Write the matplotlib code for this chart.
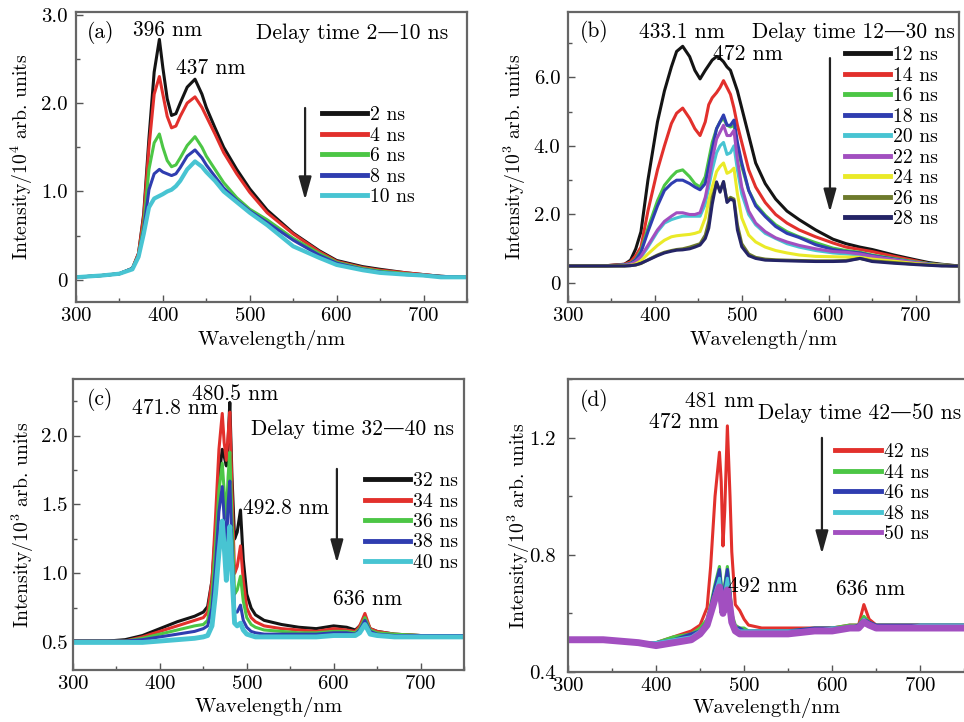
import matplotlib.pyplot as plt
from matplotlib.ticker import MultipleLocator, FuncFormatter

plt.rcParams['font.family'] = ['cmr10', 'DejaVu Serif']
plt.rcParams['mathtext.fontset'] = 'cm'
plt.rcParams['axes.formatter.use_mathtext'] = True
plt.rcParams['axes.unicode_minus'] = False
plt.rcParams['font.size'] = 15.5

# ---------------- (a) delay 2-10 ns, intensity / 1e4 ----------------
wl_a = [300, 330, 350, 365, 372, 378, 384, 390, 396, 400, 405, 410, 415, 420, 428, 437,
        445, 450, 460, 470, 485, 500, 520, 550, 580, 600, 630, 650, 680, 700, 720, 750]
a_2ns = [0.03, 0.05, 0.07, 0.13, 0.3, 0.75, 1.6, 2.35, 2.72, 2.4, 2.05, 1.86, 1.88, 2.0, 2.18, 2.27,
         2.1, 1.95, 1.72, 1.5, 1.25, 1.03, 0.79, 0.53, 0.33, 0.22, 0.15, 0.12, 0.08, 0.06, 0.04, 0.03]
a_4ns = [0.03, 0.05, 0.07, 0.13, 0.3, 0.72, 1.5, 2.1, 2.30, 2.1, 1.85, 1.72, 1.74, 1.85, 2.0, 2.07,
         1.95, 1.85, 1.65, 1.44, 1.2, 0.99, 0.76, 0.52, 0.32, 0.21, 0.14, 0.11, 0.08, 0.06, 0.04, 0.03]
a_6ns = [0.03, 0.05, 0.07, 0.13, 0.28, 0.62, 1.25, 1.55, 1.65, 1.5, 1.35, 1.28, 1.3, 1.38, 1.52, 1.62,
         1.5, 1.4, 1.25, 1.1, 0.93, 0.8, 0.68, 0.47, 0.3, 0.2, 0.13, 0.1, 0.07, 0.05, 0.04, 0.03]
a_8ns = [0.03, 0.05, 0.07, 0.13, 0.27, 0.57, 1.02, 1.2, 1.25, 1.22, 1.2, 1.18, 1.2, 1.27, 1.4, 1.47,
         1.38, 1.3, 1.17, 1.04, 0.9, 0.78, 0.65, 0.45, 0.28, 0.19, 0.12, 0.09, 0.06, 0.05, 0.04, 0.03]
a_10ns = [0.03, 0.05, 0.07, 0.12, 0.26, 0.52, 0.82, 0.92, 0.95, 0.97, 1.0, 1.02, 1.06, 1.12, 1.25, 1.34,
          1.28, 1.22, 1.12, 1.0, 0.88, 0.76, 0.62, 0.38, 0.25, 0.17, 0.11, 0.08, 0.06, 0.05, 0.03, 0.03]

# ---------------- (b) delay 12-30 ns, intensity / 1e3 ----------------
wl_b = [300, 340, 365, 372, 378, 384, 392, 403, 411, 419, 425, 432, 440, 446, 452, 458, 462, 466,
        471, 475, 479, 483, 487, 491, 495, 500, 508, 516, 527, 539, 552, 566, 585, 605, 620, 636,
        650, 675, 700, 715, 730, 750]
b_12ns = [0.5, 0.5, 0.55, 0.67, 1.0, 1.5, 3.0, 4.7, 5.6, 6.3, 6.75, 6.9, 6.6, 6.2, 5.95, 6.2, 6.35, 6.5,
          6.6, 6.55, 6.45, 6.3, 6.2, 5.9, 5.6, 5.1, 4.3, 3.5, 2.9, 2.45, 2.1, 1.85, 1.55, 1.28, 1.15, 1.05,
          0.98, 0.82, 0.68, 0.6, 0.55, 0.5]
b_14ns = [0.5, 0.5, 0.55, 0.62, 0.8, 1.05, 2.1, 3.3, 4.0, 4.65, 4.95, 5.1, 4.8, 4.5, 4.3, 4.7, 5.2, 5.4,
          5.55, 5.7, 5.9, 5.7, 5.5, 5.1, 4.6, 4.1, 3.3, 2.8, 2.35, 2.0, 1.75, 1.55, 1.35, 1.17, 1.05, 0.98,
          0.92, 0.78, 0.65, 0.57, 0.53, 0.5]
b_16ns = [0.5, 0.5, 0.53, 0.58, 0.7, 0.95, 1.6, 2.4, 2.85, 3.1, 3.25, 3.3, 3.1, 2.9, 2.8, 3.1, 3.6, 4.1,
          4.5, 4.7, 4.8, 4.6, 4.55, 4.6, 4.0, 3.4, 2.7, 2.3, 1.98, 1.7, 1.5, 1.35, 1.18, 1.02, 0.95, 0.9,
          0.82, 0.72, 0.62, 0.57, 0.53, 0.5]
b_18ns = [0.5, 0.5, 0.53, 0.57, 0.68, 0.9, 1.5, 2.25, 2.7, 2.9, 3.0, 3.0, 2.9, 2.8, 2.72, 2.9, 3.4, 3.9,
          4.5, 4.7, 4.9, 4.6, 4.6, 4.75, 4.1, 3.5, 2.7, 2.25, 1.94, 1.65, 1.45, 1.33, 1.12, 0.98, 0.92, 0.88,
          0.8, 0.7, 0.6, 0.56, 0.52, 0.5]
b_20ns = [0.5, 0.5, 0.52, 0.55, 0.62, 0.75, 1.05, 1.5, 1.75, 1.85, 1.9, 1.95, 1.95, 1.95, 1.95, 2.3, 2.8, 3.3,
          3.8, 4.0, 4.1, 3.75, 3.8, 4.0, 3.3, 2.6, 2.0, 1.7, 1.45, 1.3, 1.15, 1.05, 0.95, 0.88, 0.85, 0.82,
          0.76, 0.68, 0.6, 0.55, 0.52, 0.5]
b_22ns = [0.5, 0.5, 0.52, 0.55, 0.63, 0.78, 1.1, 1.55, 1.8, 1.95, 2.05, 2.05, 2.0, 2.0, 2.05, 2.5, 3.0, 3.6,
          4.2, 4.4, 4.6, 4.3, 4.3, 4.45, 3.6, 2.8, 2.1, 1.75, 1.5, 1.32, 1.2, 1.1, 1.0, 0.92, 0.9, 0.85,
          0.78, 0.68, 0.6, 0.55, 0.52, 0.5]
b_24ns = [0.5, 0.5, 0.51, 0.52, 0.56, 0.65, 0.85, 1.1, 1.25, 1.35, 1.38, 1.4, 1.42, 1.45, 1.5, 1.9, 2.4, 2.8,
          3.25, 3.4, 3.5, 3.2, 3.25, 3.35, 2.6, 1.9, 1.4, 1.2, 1.05, 0.95, 0.88, 0.82, 0.78, 0.77, 0.76, 0.75,
          0.7, 0.64, 0.57, 0.54, 0.52, 0.5]
b_26ns = [0.5, 0.5, 0.5, 0.51, 0.53, 0.57, 0.68, 0.82, 0.9, 0.95, 0.98, 1.0, 1.05, 1.1, 1.15, 1.4, 1.8, 2.5,
          2.9, 2.7, 2.95, 2.4, 2.5, 2.45, 1.7, 1.15, 0.85, 0.75, 0.7, 0.68, 0.67, 0.66, 0.65, 0.65, 0.66, 0.72,
          0.65, 0.6, 0.55, 0.53, 0.51, 0.5]
b_28ns = [0.5, 0.5, 0.5, 0.51, 0.53, 0.58, 0.67, 0.8, 0.88, 0.93, 0.96, 0.97, 1.0, 1.05, 1.11, 1.3, 1.6, 2.3,
          2.95, 2.65, 2.96, 2.35, 2.45, 2.4, 1.55, 1.06, 0.8, 0.72, 0.67, 0.66, 0.65, 0.64, 0.63, 0.63, 0.64, 0.72,
          0.63, 0.58, 0.54, 0.52, 0.5, 0.5]

# ---------------- (c) delay 32-40 ns, intensity / 1e3 ----------------
wl_c = [300, 340, 360, 380, 400, 420, 440, 450, 455, 460, 464, 468, 471.8, 474, 476.5, 478.5, 480.5,
        483, 486, 489, 492.8, 496, 500, 505, 510, 520, 540, 560, 580, 600, 615, 625, 630, 636, 642,
        650, 670, 700, 725, 750]
c_32ns = [0.51, 0.51, 0.52, 0.55, 0.6, 0.65, 0.69, 0.72, 0.76, 0.95, 1.3, 1.7, 1.9, 1.85, 1.78, 1.95, 2.24,
          1.7, 1.25, 1.3, 1.46, 1.1, 0.85, 0.75, 0.7, 0.66, 0.63, 0.61, 0.6, 0.62, 0.61, 0.59, 0.62, 0.68, 0.6,
          0.58, 0.56, 0.55, 0.55, 0.55]
c_34ns = [0.51, 0.51, 0.51, 0.54, 0.58, 0.62, 0.66, 0.68, 0.72, 0.95, 1.4, 1.9, 2.16, 1.95, 1.82, 2.0, 2.17,
          1.6, 1.0, 1.05, 1.2, 0.95, 0.75, 0.68, 0.65, 0.62, 0.6, 0.59, 0.58, 0.6, 0.59, 0.58, 0.62, 0.71, 0.6,
          0.58, 0.56, 0.55, 0.55, 0.55]
c_36ns = [0.51, 0.51, 0.51, 0.53, 0.56, 0.59, 0.62, 0.63, 0.66, 0.85, 1.2, 1.6, 1.8, 1.6, 1.4, 1.7, 1.88,
          1.4, 0.85, 0.88, 0.98, 0.8, 0.68, 0.63, 0.61, 0.59, 0.58, 0.57, 0.57, 0.58, 0.58, 0.57, 0.6, 0.68, 0.59,
          0.57, 0.56, 0.55, 0.55, 0.55]
c_38ns = [0.51, 0.51, 0.51, 0.52, 0.54, 0.56, 0.58, 0.6, 0.62, 0.75, 1.05, 1.45, 1.63, 1.4, 1.15, 1.5, 1.67,
          1.2, 0.72, 0.72, 0.77, 0.66, 0.61, 0.58, 0.57, 0.56, 0.56, 0.56, 0.56, 0.57, 0.57, 0.56, 0.59, 0.66, 0.58,
          0.56, 0.55, 0.55, 0.55, 0.55]
c_40ns = [0.5, 0.5, 0.5, 0.5, 0.51, 0.52, 0.53, 0.54, 0.55, 0.62, 0.85, 1.15, 1.38, 1.2, 0.95, 1.15, 1.34,
          1.0, 0.64, 0.62, 0.64, 0.59, 0.56, 0.55, 0.54, 0.54, 0.54, 0.54, 0.54, 0.55, 0.55, 0.55, 0.57, 0.63, 0.56,
          0.55, 0.54, 0.54, 0.54, 0.54]

# ---------------- (d) delay 42-50 ns, intensity / 1e3 ----------------
wl_d = [300, 340, 380, 400, 420, 440, 450, 458, 462, 467, 472, 474, 476, 478, 481, 484, 486, 490, 495,
        500, 505, 520, 550, 580, 600, 620, 630, 636, 642, 650, 680, 700, 725, 750]
d_42ns = [0.51, 0.51, 0.5, 0.5, 0.52, 0.54, 0.56, 0.62, 0.76, 1.0, 1.15, 1.05, 0.83, 0.95, 1.24, 1.0, 0.81,
          0.63, 0.61, 0.58, 0.56, 0.55, 0.55, 0.55, 0.55, 0.56, 0.56, 0.63, 0.58, 0.56, 0.56, 0.56, 0.56, 0.56]
d_44ns = [0.51, 0.51, 0.5, 0.5, 0.52, 0.53, 0.55, 0.58, 0.63, 0.7, 0.76, 0.7, 0.64, 0.7, 0.76, 0.68, 0.6,
          0.56, 0.55, 0.55, 0.54, 0.54, 0.54, 0.55, 0.55, 0.56, 0.56, 0.59, 0.57, 0.56, 0.56, 0.56, 0.56, 0.56]
d_46ns = [0.51, 0.51, 0.5, 0.5, 0.51, 0.53, 0.54, 0.57, 0.62, 0.69, 0.75, 0.69, 0.63, 0.69, 0.75, 0.67, 0.59,
          0.55, 0.55, 0.54, 0.54, 0.54, 0.54, 0.55, 0.55, 0.55, 0.56, 0.58, 0.57, 0.56, 0.56, 0.56, 0.56, 0.56]
d_48ns = [0.51, 0.51, 0.5, 0.5, 0.51, 0.52, 0.54, 0.56, 0.61, 0.67, 0.72, 0.67, 0.62, 0.67, 0.72, 0.65, 0.58,
          0.55, 0.54, 0.54, 0.54, 0.54, 0.54, 0.54, 0.55, 0.55, 0.55, 0.58, 0.56, 0.55, 0.55, 0.56, 0.56, 0.56]
d_50ns = [0.51, 0.51, 0.5, 0.49, 0.5, 0.51, 0.53, 0.56, 0.6, 0.65, 0.69, 0.65, 0.6, 0.64, 0.68, 0.62, 0.57,
          0.54, 0.53, 0.53, 0.53, 0.53, 0.53, 0.54, 0.54, 0.55, 0.55, 0.57, 0.56, 0.55, 0.55, 0.55, 0.55, 0.55]

BLACK, RED, GREEN, BLUE, CYAN = '#141414', '#e2302c', '#4cc645', '#2f3db0', '#48c4d2'
PURPLE, YELLOW, OLIVE, NAVY = '#a24fc0', '#eaea28', '#6d7a2c', '#242466'

fig = plt.figure(figsize=(9.64, 7.22), dpi=100)


def style_axes(ax, ylim, ymaj, ymin, fmt, ypad=4.5, lpad=4, ylpad=4):
    ax.set_xlim(300, 750)
    ax.set_ylim(*ylim)
    ax.xaxis.set_major_locator(MultipleLocator(100))
    ax.xaxis.set_minor_locator(MultipleLocator(50))
    ax.yaxis.set_major_locator(MultipleLocator(ymaj))
    ax.yaxis.set_minor_locator(MultipleLocator(ymin))
    ax.yaxis.set_major_formatter(FuncFormatter(fmt))
    ax.tick_params(which='both', direction='in', top=False, right=False, colors='#555555',
                   labelcolor='black', labelsize=15, width=1)
    ax.tick_params(which='major', length=5)
    ax.tick_params(which='minor', length=3)
    ax.tick_params(axis='y', pad=ypad)
    for s in ax.spines.values():
        s.set_color('#666666')
        s.set_linewidth(1.6)
    ax.set_xlabel('Wavelength/nm', fontsize=15, labelpad=lpad)
    ax.set_ylabel(ax.get_ylabel(), fontsize=14.2, labelpad=ylpad)


def add_legend(ax, x, y):
    leg = ax.legend(loc='upper left', bbox_to_anchor=(x, y), frameon=False, handlelength=2.3,
                    handletextpad=0.15, labelspacing=0.13, borderpad=0, borderaxespad=0, fontsize=14.2)
    for ln in leg.get_lines():
        ln.set_linewidth(3.5)


def add_arrow(ax, x, y0, y1):
    ax.annotate('', xy=(x, y1), xycoords='axes fraction', xytext=(x, y0),
                arrowprops=dict(arrowstyle='-|>,head_length=0.9,head_width=0.25',
                                color='#222222', lw=1.6, shrinkA=0, shrinkB=0))


one_dec = lambda v, p: '0' if abs(v) < 1e-9 else f'{v:.1f}'

# (a)
ax = fig.add_axes([0.0788, 0.5817, 0.4056, 0.4017])
for y, c, lab in zip([a_2ns, a_4ns, a_6ns, a_8ns, a_10ns], [BLACK, RED, GREEN, BLUE, CYAN],
                     ['2 ns', '4 ns', '6 ns', '8 ns', '10 ns']):
    ax.plot(wl_a, y, color=c, lw=2.2 if c != CYAN else 3, label=lab)
ax.set_ylabel('Intensity/$10^4$ arb. units')
style_axes(ax, (-0.25, 3.03), 1.0, 0.5, one_dec, ypad=6)
ax.text(0.028, 0.928, '(a)', transform=ax.transAxes, ha='left', va='center')
ax.text(0.235, 0.938, '396 nm', transform=ax.transAxes, ha='center', va='center')
ax.text(0.345, 0.807, '437 nm', transform=ax.transAxes, ha='center', va='center')
ax.text(0.951, 0.928, 'Delay time 2—10 ns', transform=ax.transAxes, ha='right', va='center')
add_arrow(ax, 0.586, 0.669, 0.352)
add_legend(ax, 0.629, 0.675)

# (b)
ax = fig.add_axes([0.5892, 0.5817, 0.4056, 0.4017])
for y, c, lab in zip([b_12ns, b_14ns, b_16ns, b_18ns, b_20ns, b_22ns, b_24ns, b_26ns, b_28ns],
                     [BLACK, RED, GREEN, BLUE, CYAN, PURPLE, YELLOW, OLIVE, NAVY],
                     ['12 ns', '14 ns', '16 ns', '18 ns', '20 ns', '22 ns', '24 ns', '26 ns', '28 ns']):
    ax.plot(wl_b, y, color=c, lw=2.2, label=lab)
ax.set_ylabel('Intensity/$10^3$ arb. units')
style_axes(ax, (-0.55, 7.9), 2.0, 1.0, one_dec, ypad=5.5)
ax.text(0.031, 0.931, '(b)', transform=ax.transAxes, ha='left', va='center')
ax.text(0.292, 0.931, '433.1 nm', transform=ax.transAxes, ha='center', va='center')
ax.text(0.460, 0.855, '472 nm', transform=ax.transAxes, ha='center', va='center')
ax.text(0.990, 0.931, 'Delay time 12—30 ns', transform=ax.transAxes, ha='right', va='center')
add_arrow(ax, 0.670, 0.841, 0.310)
add_legend(ax, 0.708, 0.882)

# (c)
ax = fig.add_axes([0.0757, 0.0720, 0.4056, 0.4031])
for y, c, lab in zip([c_32ns, c_34ns, c_36ns, c_38ns, c_40ns], [BLACK, RED, GREEN, BLUE, CYAN],
                     ['32 ns', '34 ns', '36 ns', '38 ns', '40 ns']):
    ax.plot(wl_c, y, color=c, lw=2.2 if c != CYAN else 3.5, label=lab)
ax.set_ylabel('Intensity/$10^3$ arb. units')
style_axes(ax, (0.30, 2.41), 0.5, 0.25, lambda v, p: f'{v:.1f}', ypad=3.5, lpad=3)
ax.text(0.036, 0.931, '(c)', transform=ax.transAxes, ha='left', va='center')
ax.text(0.414, 0.948, '480.5 nm', transform=ax.transAxes, ha='center', va='center')
ax.text(0.262, 0.900, '471.8 nm', transform=ax.transAxes, ha='center', va='center')
ax.text(0.974, 0.828, 'Delay time 32—40 ns', transform=ax.transAxes, ha='right', va='center')
ax.text(0.435, 0.557, '492.8 nm', transform=ax.transAxes, ha='left', va='center')
ax.text(0.753, 0.244, '636 nm', transform=ax.transAxes, ha='center', va='center')
add_arrow(ax, 0.675, 0.691, 0.368)
add_legend(ax, 0.747, 0.680)

# (d)
ax = fig.add_axes([0.5892, 0.0693, 0.4129, 0.4058])
for y, c, lab in zip([d_42ns, d_44ns, d_46ns, d_48ns, d_50ns], [RED, GREEN, BLUE, CYAN, PURPLE],
                     ['42 ns', '44 ns', '46 ns', '48 ns', '50 ns']):
    ax.plot(wl_d, y, color=c, lw=2.2 if c != PURPLE else 5, label=lab)
ax.set_ylabel('Intensity/$10^3$ arb. units')
style_axes(ax, (0.4, 1.40), 0.4, 0.2, lambda v, p: f'{v:.1f}', ypad=9, lpad=2, ylpad=-2)
ax.set_xlim(300, 752)
ax.text(0.029, 0.928, '(d)', transform=ax.transAxes, ha='left', va='center')
ax.text(0.382, 0.925, '481 nm', transform=ax.transAxes, ha='center', va='center')
ax.text(0.291, 0.853, '472 nm', transform=ax.transAxes, ha='center', va='center')
ax.text(0.478, 0.884, 'Delay time 42—50 ns', transform=ax.transAxes, ha='left', va='center')
ax.text(0.403, 0.294, '492 nm', transform=ax.transAxes, ha='left', va='center')
ax.text(0.760, 0.283, '636 nm', transform=ax.transAxes, ha='center', va='center')
add_arrow(ax, 0.638, 0.799, 0.403)
add_legend(ax, 0.672, 0.781)

fig.savefig('out.png', dpi=100)
